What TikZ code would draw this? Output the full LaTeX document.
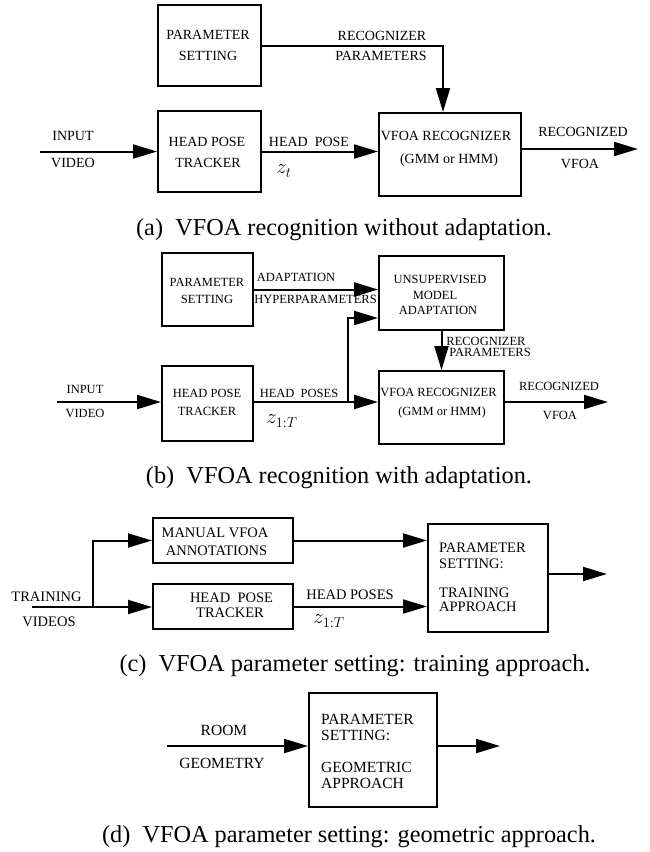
\documentclass[tikz,border=0pt]{standalone}
\usepackage{fontspec}
\setmainfont{Liberation Serif}
\usetikzlibrary{arrows.meta}
\newcommand\fsz[1]{\fontsize{#1}{#1}\selectfont}
\tikzset{
  blk/.style={draw, line width=2pt, inner sep=0pt},
  lbl/.style={inner sep=0pt, anchor=center},
  lblw/.style={inner sep=0pt, anchor=west},
  ta/.style={lbl, font=\fsz{14}},
  tb/.style={lbl, font=\fsz{12.5}},
  tc/.style={lbl, font=\fsz{14.5}},
  tcw/.style={lblw, font=\fsz{14.5}},
  tdw/.style={lblw, font=\fsz{15.5}},
  td/.style={lbl, font=\fsz{15.5}},
  captxt/.style={lbl, font=\fsz{24.3}},
  ln/.style={line width=2pt},
  arr/.style={line width=2pt, -{Triangle[length=24pt,width=14pt]}},
  mz/.style={lbl, font=\fsz{20}},
}
\begin{document}
\begin{tikzpicture}[x=1pt,y=-1pt]
\useasboundingbox (0,0) rectangle (650,852);
% ---------------- (a)
\node[blk, minimum width=103pt, minimum height=81pt] (psA) at (209.5,45.5) {};
\node[blk, minimum width=103pt, minimum height=81pt] (trA) at (209.5,151.5) {};
\node[blk, minimum width=142pt, minimum height=83pt] (vfA) at (450,154.5) {};
\node[ta] (psA1) at (208,35) {PARAMETER};
\node[ta] (psA2) at (208,56) {SETTING};
\node[ta] (trA1) at (207,142) {HEAD POSE};
\node[ta] (trA2) at (208,163) {TRACKER};
\node[ta] (vfA1) at (446,136) {VFOA RECOGNIZER};
\node[ta] (vfA2) at (449,160) {(GMM or HMM)};
\node[ta] (inA1) at (73,136) {INPUT};
\node[ta] (inA2) at (73,163) {VIDEO};
\node[ta] (hpA) at (309,142) {HEAD\enspace POSE};
\node[mz] (zA) at (284,171) {$z_t$};
\node[ta] (rpA1) at (382,36) {RECOGNIZER};
\node[ta] (rpA2) at (381,56) {PARAMETERS};
\node[ta] (rvA1) at (583,132) {RECOGNIZED};
\node[ta] (rvA2) at (580,164) {VFOA};
\coordinate (inA) at (40,151.5);
\coordinate (outA) at (638,149);
\draw[arr] (inA) -- (trA.west);
\draw[arr] (trA.east) -- (trA.east -| vfA.west);
\draw[arr] (psA.east) -| ([xshift=-7pt]vfA.north);
\draw[arr] (vfA.east |- outA) -- (outA);
\node[captxt] (capA) at (344,230) {(a)\enspace VFOA recognition without adaptation.};
% ---------------- (b)
\node[blk, minimum width=91pt, minimum height=73pt] (psB) at (207.5,289.5) {};
\node[blk, minimum width=91pt, minimum height=75pt] (trB) at (207.5,403.5) {};
\node[blk, minimum width=125pt, minimum height=74pt] (unB) at (441.5,293) {};
\node[blk, minimum width=125pt, minimum height=73pt] (vfB) at (441.5,407.5) {};
\node[tb] (psB1) at (207,282) {PARAMETER};
\node[tb] (psB2) at (207,299) {SETTING};
\node[tb] (trB1) at (207,393) {HEAD POSE};
\node[tb] (trB2) at (207,411) {TRACKER};
\node[tb] (unB1) at (440,279) {UNSUPERVISED};
\node[tb] (unB2) at (435,295) {MODEL};
\node[tb] (unB3) at (438,310) {ADAPTATION};
\node[tb] (vfB1) at (438.5,392) {VFOA RECOGNIZER};
\node[tb] (vfB2) at (442,412) {(GMM or HMM)};
\node[tb] (inB1) at (85,389) {INPUT};
\node[tb] (inB2) at (85,413) {VIDEO};
\node[tb] (adB1) at (296,277) {ADAPTATION};
\node[tb] (adB2) at (315.5,299) {HYPERPARAMETERS};
\node[tb] (hpB) at (299,393) {HEAD\enspace POSES};
\node[mz] (zB) at (282,421) {$z_{1:T}$};
\node[tb] (rpB1) at (486,341) {RECOGNIZER};
\node[tb] (rpB2) at (490,352) {PARAMETERS};
\node[tb] (rvB1) at (559,386) {RECOGNIZED};
\node[tb] (rvB2) at (560,415) {VFOA};
\coordinate (inB) at (57,402);
\coordinate (brB) at (348,402);
\coordinate (upB) at (348,318);
\coordinate (outB) at (608,402);
\draw[arr] (inB) -- (inB -| trB.west);
\draw[ln] (trB.east |- brB) -- (brB);
\draw[arr] (brB) -- (brB -| vfB.west);
\draw[arr] (brB) -- (upB) -- (upB -| unB.west);
\draw[arr] (psB.east) -- (psB.east -| unB.west);
\draw[arr] (unB.south) -- (vfB.north);
\draw[arr] (vfB.east |- outB) -- (outB);
\node[captxt] (capB) at (339,478) {(b)\enspace VFOA recognition with adaptation.};
% ---------------- (c)
\node[blk, minimum width=140pt, minimum height=45pt] (maC) at (223,540.5) {};
\node[blk, minimum width=140pt, minimum height=45pt] (trC) at (223,606.5) {};
\node[blk, minimum width=120pt, minimum height=108pt] (psC) at (488,578) {};
\node[tc] (maC1) at (215,533) {MANUAL VFOA};
\node[tc] (maC2) at (216.5,551) {ANNOTATIONS};
\node[tc] (trC1) at (231.5,598) {HEAD\enspace POSE};
\node[tc] (trC2) at (230,613) {TRACKER};
\node[tcw] (psC1) at (439,548) {PARAMETER};
\node[tcw] (psC2) at (439,564) {SETTING:};
\node[tcw] (psC3) at (439,593) {TRAINING};
\node[tcw] (psC4) at (439,607) {APPROACH};
\node[tc] (inC1) at (46.5,597) {TRAINING};
\node[tc] (inC2) at (49,622) {VIDEOS};
\node[tc] (hpC) at (350,595) {HEAD POSES};
\node[mz] (zC) at (329,621) {$z_{1:T}$};
\coordinate (inC) at (32,607);
\coordinate (brC) at (93,607);
\coordinate (outC) at (607,574);
\draw[arr] (inC) -- (inC -| trC.west);
\draw[arr] (brC) |- (maC.west);
\draw[arr] (maC.east) -- (maC.east -| psC.west);
\draw[arr] (trC.east) -- (trC.east -| psC.west);
\draw[arr] (psC.east |- outC) -- (outC);
\node[captxt] (capC) at (355,666) {(c)\enspace VFOA parameter setting: training approach.};
% ---------------- (d)
\node[blk, minimum width=128pt, minimum height=114pt] (psD) at (373,750) {};
\node[tdw] (psD1) at (321,719) {PARAMETER};
\node[tdw] (psD2) at (321,735) {SETTING:};
\node[tdw] (psD3) at (321,767) {GEOMETRIC};
\node[tdw] (psD4) at (321,783) {APPROACH};
\node[td] (inD1) at (224,730) {ROOM};
\node[td] (inD2) at (222,763) {GEOMETRY};
\coordinate (inD) at (167,746);
\coordinate (outD) at (500,746);
\draw[arr] (inD) -- (inD -| psD.west);
\draw[arr] (psD.east |- outD) -- (outD);
\node[captxt] (capD) at (349,837) {(d)\enspace VFOA parameter setting: geometric approach.};
\end{tikzpicture}
\end{document}
